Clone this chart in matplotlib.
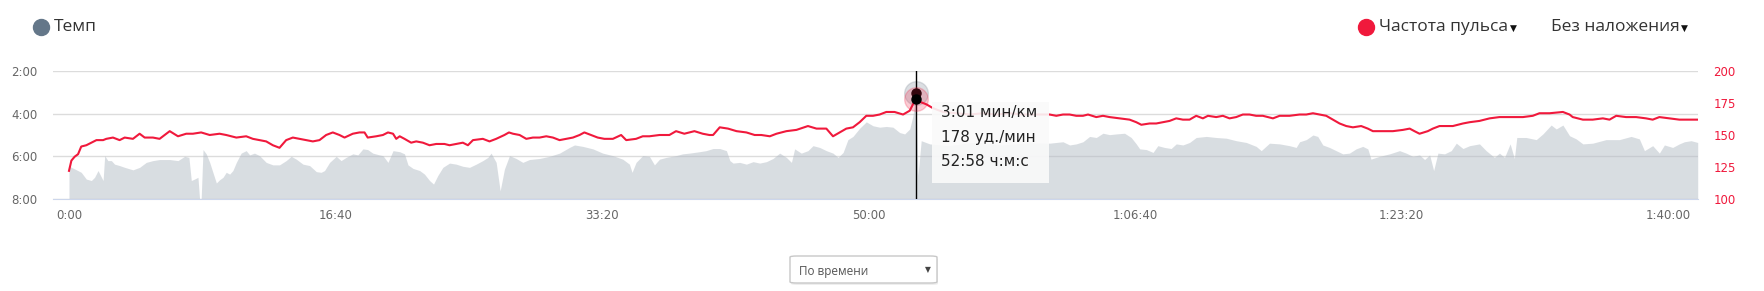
import matplotlib
matplotlib.use("Agg")
import matplotlib.pyplot as plt
from matplotlib.patches import FancyBboxPatch, Rectangle
from matplotlib.lines import Line2D
from matplotlib.ticker import FuncFormatter

# heart rate, bpm over elapsed seconds
hr_time = [0, 9, 21, 34, 46, 65, 84, 103, 128, 140, 165, 190, 209, 240, 265, 284, 315, 340,
           378, 409, 440, 465, 496, 528, 565, 590, 628, 665, 690, 715, 740, 765, 790, 815,
           840, 865, 890, 915, 940, 965, 990, 1015, 1034, 1065, 1090, 1109, 1121, 1153, 1178,
           1197, 1216, 1228, 1241, 1259, 1284, 1303, 1328, 1353, 1378, 1409, 1428, 1453, 1478,
           1497, 1516, 1553, 1578, 1603, 1634, 1651, 1666, 1691, 1716, 1741, 1766, 1791, 1816,
           1841, 1866, 1891, 1916, 1934, 1959, 1984, 2009, 2041, 2072, 2091, 2128, 2153, 2178,
           2216, 2253, 2278, 2309, 2347, 2378, 2403, 2417, 2442, 2473, 2505, 2542, 2573, 2598,
           2630, 2655, 2692, 2730, 2773, 2805, 2842, 2867, 2892, 2917, 2942, 2967, 2992, 3017,
           3042, 3067, 3098, 3130, 3155, 3167, 3178, 3192, 3217, 3242, 3280, 3330, 3380, 3430,
           3480, 3530, 3580, 3630, 3680, 3705, 3730, 3755, 3780, 3805, 3824, 3855, 3880, 3905,
           3943, 3980, 4005, 4024, 4055, 4080, 4105, 4130, 4155, 4180, 4205, 4230, 4255, 4274,
           4305, 4330, 4355, 4380, 4405, 4430, 4455, 4480, 4518, 4543, 4580, 4618, 4643, 4668,
           4693, 4718, 4743, 4768, 4793, 4818, 4849, 4874, 4893, 4918, 4968, 5006, 5031, 5049,
           5068, 5099, 5118, 5143, 5193, 5231, 5256, 5293, 5331, 5368, 5418, 5456, 5493, 5518,
           5556, 5606, 5631, 5643, 5681, 5718, 5756, 5781, 5806, 5843, 5881, 5918, 5943, 5968,
           6006, 6043, 6081, 6112]
hr_bpm = [122, 130, 133, 135, 141, 142, 144, 146, 146, 147, 148, 146, 148, 147, 151, 148, 148, 147,
          153, 149, 151, 151, 152, 150, 151, 150, 148, 149, 147, 146, 145, 142, 140, 146,
          148, 147, 146, 145, 146, 150, 152, 150, 148, 151, 152, 152, 148, 149, 150,
          152, 151, 147, 149, 147, 144, 145, 144, 142, 143, 143, 142, 143, 144,
          142, 146, 147, 145, 147, 150, 152, 151, 150, 147, 148, 148, 149, 148,
          146, 147, 148, 150, 152, 150, 148, 147, 147, 150, 146, 147, 149, 149,
          150, 150, 153, 151, 153, 151, 150, 150, 156, 155, 153, 152, 150, 150,
          149, 151, 153, 154, 157, 155, 155, 149, 152, 155, 156, 160, 165, 165,
          166, 168, 168, 166, 169, 174, 178, 176, 174, 171, 168, 167, 166, 167,
          166, 167, 166, 166, 166, 165, 166, 166, 165, 165, 166, 164, 165, 164,
          163, 162, 160, 158, 159, 159, 160, 161, 163, 162, 162, 165, 163, 165,
          164, 165, 163, 164, 166, 166, 165, 165, 163, 165, 165, 166, 166, 167,
          166, 165, 162, 159, 157, 156, 157, 155, 153, 153, 153, 154, 155, 153,
          151, 153, 155, 157, 157, 159, 160, 161, 163, 164, 164, 164, 165, 167,
          167, 168, 166, 164, 162, 162, 163, 162, 165, 164, 164, 163, 162, 164,
          163, 162, 162, 162]

# pace, seconds per km over elapsed seconds
pace_time = [0, 9, 28, 46, 65, 84, 96, 109, 128, 134, 146, 159, 171, 190, 209, 240, 265, 290, 315,
             340, 378, 409, 434, 450, 459, 471, 484, 490, 496, 503, 515, 528, 540, 553, 565, 578,
             590, 603, 615, 628, 646, 665, 678, 696, 715, 740, 765, 790, 815, 834, 853, 878, 903,
             928, 946, 959, 978, 1003, 1021, 1040, 1065, 1084, 1103, 1121, 1140, 1165, 1178,
             1197, 1216, 1241, 1259, 1272, 1291, 1316, 1334, 1353, 1368, 1384, 1403, 1428, 1453,
             1478, 1503, 1528, 1553, 1572, 1584, 1603, 1618, 1634, 1653, 1678, 1703, 1728, 1766,
             1803, 1841, 1878, 1897, 1928, 1966, 2003, 2041, 2078, 2103, 2113, 2128, 2153, 2178,
             2197, 2216, 2241, 2278, 2303, 2328, 2366, 2391, 2417, 2442, 2467, 2480, 2492, 2517,
             2542, 2567, 2592, 2617, 2642, 2667, 2692, 2711, 2723, 2748, 2773, 2792, 2817, 2842,
             2867, 2886, 2905, 2923, 2942, 2967, 2992, 3017, 3042, 3067, 3092, 3117, 3136, 3155,
             3167, 3178, 3186, 3198, 3230, 3300, 3400, 3500, 3600, 3680, 3705, 3730, 3755, 3780,
             3805, 3830, 3855, 3880, 3905, 3930, 3961, 3986, 4005, 4018, 4043, 4068, 4086, 4111,
             4136, 4155, 4180, 4205, 4230, 4268, 4305, 4343, 4380, 4418, 4455, 4474, 4505, 4543,
             4580, 4605, 4618, 4643, 4668, 4686, 4705, 4730, 4755, 4780, 4805, 4830, 4855, 4874,
             4886, 4893, 4918, 4956, 4993, 5018, 5043, 5068, 5087, 5106, 5121, 5137, 5162, 5187,
             5206, 5231, 5256, 5293, 5318, 5349, 5368, 5387, 5408, 5424, 5433, 5468, 5506, 5531,
             5562, 5581, 5606, 5631, 5656, 5681, 5718, 5768, 5818, 5862, 5893, 5912, 5943, 5968,
             5987, 6018, 6043, 6062, 6087, 6112]
pace_sec = [386, 391, 398, 405, 424, 428, 419, 400, 428, 358, 372, 372, 382, 386, 391, 398, 391, 377, 372,
            369, 369, 372, 360, 363, 428, 424, 419, 480, 480, 341, 353, 377, 405, 435, 426, 419,
            405, 410, 400, 377, 351, 344, 356, 351, 358, 377, 384, 384, 372, 360, 368, 382, 386,
            403, 405, 400, 377, 360, 372, 363, 353, 356, 339, 341, 351, 356, 358,
            377, 344, 347, 353, 384, 394, 400, 410, 428, 438, 414, 391, 379, 382,
            388, 391, 382, 372, 363, 351, 377, 457, 396, 358, 366, 377, 369, 366,
            360, 351, 335, 328, 332, 339, 351, 358, 368, 382, 405, 377, 358, 360,
            384, 368, 363, 358, 353, 351, 347, 344, 338, 338, 344, 372, 379, 377,
            382, 375, 379, 375, 366, 351, 363, 377, 339, 351, 344, 330, 335, 344,
            351, 363, 349, 313, 304, 281, 263, 274, 278, 276, 278, 293, 297, 283,
            246, 181, 414, 316, 325, 330, 320, 328, 322, 323, 321, 319, 328, 325,
            319, 304, 307, 295, 299, 297, 295, 307, 325, 339, 341, 349, 330, 335,
            338, 325, 328, 321, 307, 304, 307, 309, 316, 321, 332, 344, 323, 325,
            330, 335, 319, 313, 300, 304, 328, 335, 344, 353, 351, 339, 332, 339,
            368, 366, 360, 353, 344, 351, 360, 356, 369, 356, 400, 351, 353, 344,
            323, 338, 330, 325, 344, 363, 351, 363, 325, 366, 307, 307, 313, 297,
            272, 283, 272, 302, 311, 325, 323, 313, 313, 304, 311, 344, 330, 351,
            328, 335, 325, 319, 316, 321]

x_ticks = [0, 1000, 2000, 3000, 4000, 5000, 6000]
pace_ticks = [120, 240, 360, 480]
hr_ticks = [100, 125, 150, 175, 200]

hover_t = 3178
hover_pace = 181
hover_hr = 178
tooltip_lines = ["3:01 мин/км", "178 уд./мин", "52:58 ч:м:с"]

RED = "#f0193c"
AREA = "#b3bcc5"
GRID = "#dcdcdc"
LABEL = "#666666"


def fmt_time(v, pos=None):
    t = int(round(v))
    h, m, s = t // 3600, (t % 3600) // 60, t % 60
    if h:
        return f"{h}:{m:02d}:{s:02d}"
    return f"{m}:{s:02d}"


def fmt_pace(v, pos=None):
    t = int(round(v))
    return f"{t // 60}:{t % 60:02d}"


fig = plt.figure(figsize=(17.65, 2.91), dpi=100)
ax = fig.add_axes([53 / 1765, 92 / 291, 1645 / 1765, 128 / 291])
ax2 = ax.twinx()

ax.fill_between(pace_time, pace_sec, 480, color=AREA, alpha=0.5, lw=0, zorder=2)
ax.set_ylim(480, 120)
ax.set_xlim(-60, 6113)
ax.set_yticks(pace_ticks)
ax.yaxis.set_major_formatter(FuncFormatter(fmt_pace))
ax.set_xticks(x_ticks)
ax.xaxis.set_major_formatter(FuncFormatter(fmt_time))
ax.grid(axis="y", color=GRID, lw=1, zorder=1)
ax.set_axisbelow(True)
for side in ["top", "left", "right"]:
    ax.spines[side].set_visible(False)
ax.spines["bottom"].set_color("#ccd6eb")
ax.tick_params(axis="both", length=0, labelsize=8.5, labelcolor=LABEL)
ax.tick_params(axis="y", pad=11)
ax.tick_params(axis="x", pad=7.5)

ax2.plot(hr_time, hr_bpm, color=RED, lw=1.5, zorder=3)
ax2.set_ylim(100, 200)
ax2.set_yticks(hr_ticks)
for side in ["top", "left", "right", "bottom"]:
    ax2.spines[side].set_visible(False)
ax2.tick_params(axis="y", length=0, labelsize=8.5, labelcolor=RED, pad=11)

# crosshair and hover markers
ax2.axvline(hover_t, color="black", lw=1, zorder=5)
ax.plot([hover_t], [hover_pace], "o", ms=17, color="#9aa3ad", alpha=0.35, zorder=6, clip_on=False)
ax.plot([hover_t], [hover_pace], "o", ms=6.5, color="black", zorder=7, clip_on=False)
ax2.plot([hover_t], [hover_hr], "o", ms=17, color=RED, alpha=0.22, zorder=6)
ax2.plot([hover_t], [hover_hr], "o", ms=6.5, color="black", zorder=7)

# tooltip
fig.add_artist(Rectangle((932 / 1765, 108 / 291), 117 / 1765, 81 / 291,
                         transform=fig.transFigure, facecolor="#fafafa", alpha=0.9,
                         edgecolor="none", zorder=10))
for i, line in enumerate(tooltip_lines):
    fig.text(941 / 1765, (291 - 113 - i * 24.5) / 291, line, fontsize=11,
             color="#222222", va="center", ha="left", zorder=11)

# header legend
fig.add_artist(Line2D([41 / 1765], [264 / 291], marker="o", ms=11.5, color="#647789",
                      transform=fig.transFigure))
fig.text(54 / 1765, 264 / 291, "Темп", fontsize=12.5, family=["Open Sans", "DejaVu Sans"],
         color="#333333", va="center")
fig.add_artist(Line2D([1366 / 1765], [264 / 291], marker="o", ms=11.5, color=RED,
                      transform=fig.transFigure))
fig.text(1379 / 1765, 264 / 291, "Частота пульса", fontsize=12.5,
         family=["Open Sans", "DejaVu Sans"], color="#333333", va="center")
fig.text(1510 / 1765, 263 / 291, "▼", fontsize=6.5, family="DejaVu Sans", color="#111111", va="center")
fig.text(1551 / 1765, 264 / 291, "Без наложения", fontsize=12.5,
         family=["Open Sans", "DejaVu Sans"], color="#333333", va="center")
fig.text(1681 / 1765, 263 / 291, "▼", fontsize=6.5, family="DejaVu Sans", color="#111111", va="center")

# bottom selector
fig.add_artist(FancyBboxPatch((791 / 1765, 6 / 291), 147 / 1765, 27 / 291,
                              boxstyle="round,pad=0,rounding_size=0.004",
                              transform=fig.transFigure, facecolor="#eeeeee",
                              edgecolor="none", lw=0))
fig.add_artist(FancyBboxPatch((790 / 1765, 8 / 291), 147 / 1765, 27 / 291,
                              boxstyle="round,pad=0,rounding_size=0.004",
                              transform=fig.transFigure, facecolor="white",
                              edgecolor="#c8c8c8", lw=1))
fig.text(799 / 1765, 20 / 291, "По времени", fontsize=8.5, family=["Open Sans", "DejaVu Sans"],
         color="#555555", va="center")
fig.text(925 / 1765, 21 / 291, "▼", fontsize=5.5, family="DejaVu Sans", color="#444444", va="center")

fig.savefig("out.png", dpi=100)
